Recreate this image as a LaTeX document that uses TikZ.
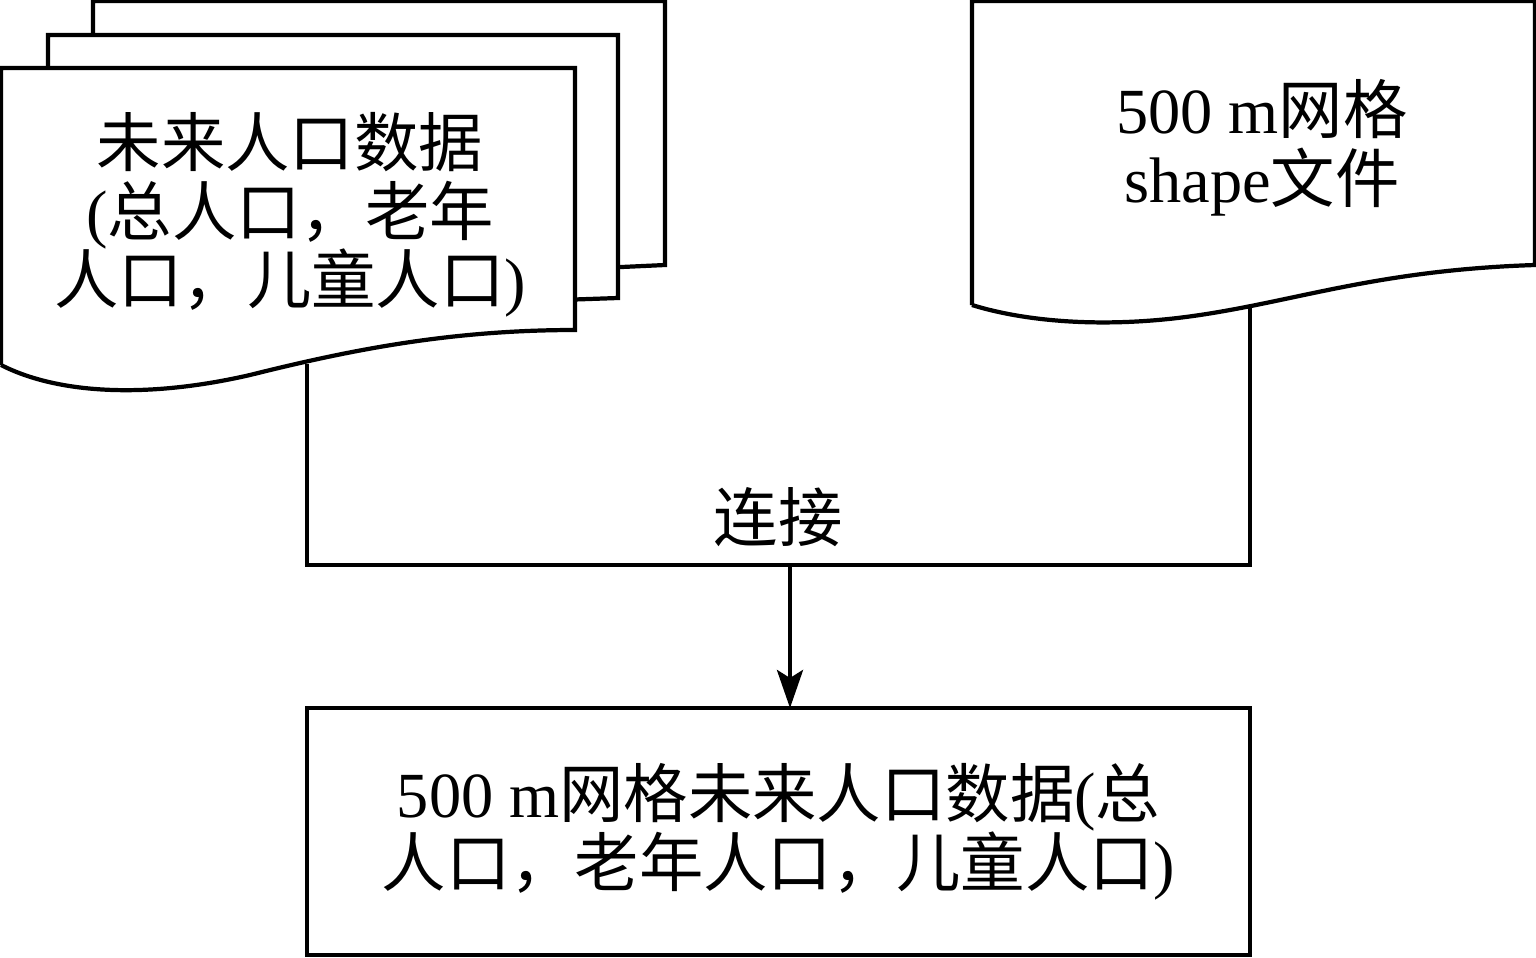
\documentclass[tikz,border=0pt]{standalone}
\usepackage{fontspec}
\setmainfont{Liberation Serif}
\newfontfamily\cjk{Noto Sans CJK SC}
\usetikzlibrary{arrows.meta}
\tikzset{doc/.style={draw, line width=1.2pt, fill=white},
	txt/.style={align=center, font=\fontsize{18.3}{19.5}\selectfont, inner sep=0pt},
	link/.style={line width=1.2pt}
}
\begin{document}
\begin{tikzpicture}[x=0.01cm, y=-0.01cm]
	\useasboundingbox (0,0) rectangle (1536,957);
	% stacked documents
	\draw[doc] (93,265) -- (93,1) -- (665,1) -- (665,265) -- (600,268) -- cycle;
	\draw[doc] (48,298) -- (48,35) -- (618,35) -- (618,298) -- (560,300) -- cycle;
	\draw[doc] (1,365) -- (1,68) -- (575,68) -- (575,330) .. controls (450,330) and (350,350) .. (250,375) .. controls (150,398) and (60,395) .. (1,365);
	\node[txt] (pop) at (290,215) {{\cjk 未来人口数据}\\({\cjk 总人口，老年}\\{\cjk 人口，儿童人口})};
	% grid document
	\draw[doc] (972,305) -- (972,1) -- (1535,1) -- (1535,265) .. controls (1380,270) and (1300,300) .. (1200,315) .. controls (1100,330) and (1020,320) .. (972,305);
	\node[txt] (grid) at (1262,148) {500 m{\cjk 网格}\\shape{\cjk 文件}};
	% result box
	\node[draw, line width=1.2pt, minimum width=9.43cm, minimum height=2.47cm] (res) at (778.5,831.5) {};
	\node[txt] at (res) {500 m{\cjk 网格未来人口数据}({\cjk 总}\\{\cjk 人口，老年人口，儿童人口})};
	% join
	\coordinate (pb) at (307,364);
	\coordinate (gb) at (1250,306);
	\coordinate (j) at (790,565);
	\draw[link] (pb) -- (307,565) -- (1250,565) -- (gb);
	\node[txt] (lbl) at (778,517) {\cjk 连接};
	\draw[link, -{Triangle[length=0.38cm, width=0.26cm, inset=0.08cm]}] (j) -- (790,708);
\end{tikzpicture}
\end{document}
